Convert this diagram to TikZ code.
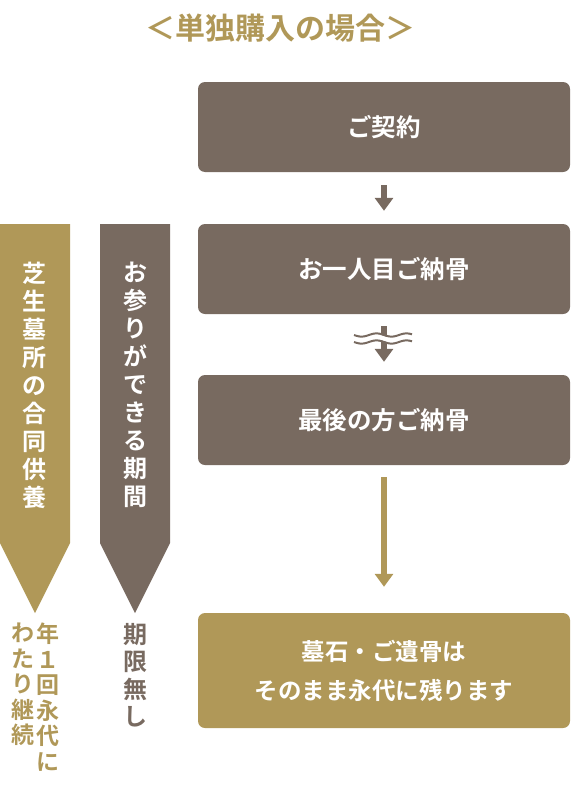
\documentclass[tikz,border=0pt]{standalone}
\usepackage{fontspec}
\setmainfont{Noto Sans CJK JP}[BoldFont={Noto Sans CJK JP Bold}]
\newfontfamily\jpb{Noto Sans CJK JP Bold}
\usetikzlibrary{arrows.meta}
\definecolor{brn}{HTML}{786A60}
\definecolor{gld}{HTML}{B09858}
\tikzset{
  box/.style={rounded corners=7pt, minimum width=372pt, inner sep=0pt, text=white, align=center},
  brownbox/.style={box, fill=brn, minimum height=90pt, font=\jpb\fontsize{24.5}{38}\selectfont},
  goldbox/.style={box, fill=gld, minimum height=115pt, font=\jpb\fontsize{23.5}{39}\selectfont},
  vtext/.style={inner sep=0pt, align=center, font=\jpb\fontsize{24}{28}\selectfont},
  flow/.style={line width=6pt, -{Triangle[width=18pt,length=13pt]}}
}
\begin{document}
\begin{tikzpicture}[x=1pt,y=-1pt]
\useasboundingbox (0,0) rectangle (570,800);
% title
\node[text=gld, font=\jpb\fontsize{30}{32}\selectfont, inner sep=0pt] (title) at (280,28) {＜単独購入の場合＞};
% boxes
\node[brownbox] (b1) at (384,127) {ご契約};
\node[brownbox] (b2) at (384,269) {お一人目ご納骨};
\node[brownbox] (b3) at (384,420) {最後の方ご納骨};
\node[goldbox] (b4) at (384,670.5) {墓石・ご遺骨は\\そのまま永代に残ります};
% connectors
\draw[flow, brn, shorten <=13pt, shorten >=13pt] (b1) -- (b2);
\draw[flow, brn, shorten <=12pt, shorten >=13pt] (b2) -- (b3);
\draw[flow, gld, shorten <=12pt, shorten >=26pt] (b3) -- (b4);
% wavy break
\fill[white, domain=354:412, samples=60] plot (\x,{336+1.6*sin(12*(\x-354))}) -- plot[domain=412:354] (\x,{341+1.6*sin(12*(\x-354))}) -- cycle;
\draw[brn, line width=2pt, domain=354:412, samples=60] plot (\x,{335+1.6*sin(12*(\x-354))});
\draw[brn, line width=2pt, domain=354:412, samples=60] plot (\x,{342+1.6*sin(12*(\x-354))});
% left arrows
\fill[gld] (0,224) -- (70,224) -- (70,543) -- (35,613) -- (0,543) -- cycle;
\fill[brn] (100,224) -- (170,224) -- (170,543) -- (135,613) -- (100,543) -- cycle;
\node[vtext, text=white] (ga) at (35,385) {芝\\生\\墓\\所\\の\\合\\同\\供\\養};
\node[vtext, text=white] (ba) at (135.5,385) {お\\参\\り\\が\\で\\き\\る\\期\\間};
% under texts
\node[vtext, text=brn, anchor=north, font=\jpb\fontsize{24}{27.5}\selectfont] (nolimit) at (135.5,623) {期\\限\\無\\し};
\node[vtext, text=gld, anchor=north, font=\jpb\fontsize{23}{25.5}\selectfont] (once) at (48,623) {年\\１\\回\\永\\代\\に};
\node[vtext, text=gld, anchor=north, font=\jpb\fontsize{23}{25.5}\selectfont] (cont) at (23,623) {わ\\た\\り\\継\\続};
\end{tikzpicture}
\end{document}
